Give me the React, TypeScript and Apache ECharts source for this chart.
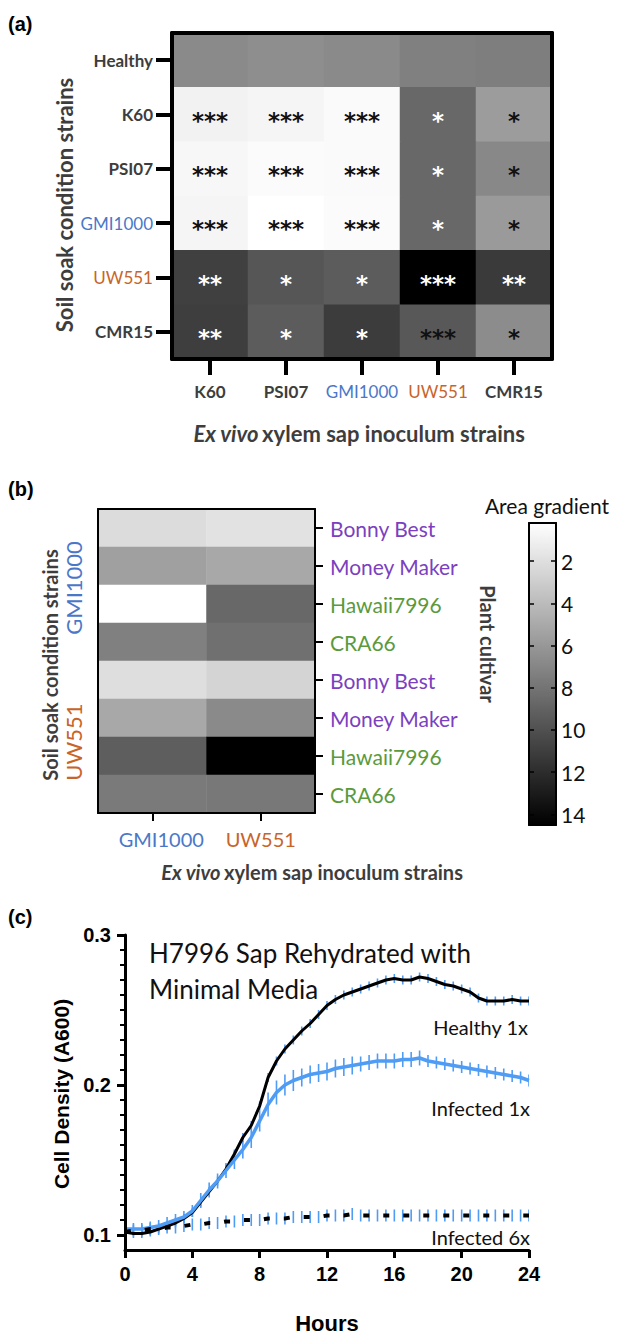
import React, { useEffect, useRef } from "react";
import * as echarts from "echarts";

// ---------- Panel (a) ----------
const soilStrainsA = ["Healthy", "K60", "PSI07", "GMI1000", "UW551", "CMR15"];
const sapStrainsA = ["K60", "PSI07", "GMI1000", "UW551", "CMR15"];
const gradientA = [
  [6.76, 6.54, 6.76, 7.32, 7.43],
  [0.93, 0.76, 0.48, 8.67, 5.75],
  [0.65, 0.42, 0.48, 8.67, 6.87],
  [0.76, 0.2, 0.42, 8.67, 5.86],
  [10.91, 9.68, 9.34, 14.5, 11.25],
  [11.02, 9.34, 11.14, 9.57, 6.65],
];
const starsA = [
  ["", "", "", "", ""],
  ["***", "***", "***", "*", "*"],
  ["***", "***", "***", "*", "*"],
  ["***", "***", "***", "*", "*"],
  ["**", "*", "*", "***", "**"],
  ["**", "*", "*", "***", "*"],
];
const starToneA = [
  ["k", "k", "k", "k", "k"],
  ["k", "k", "k", "w", "k"],
  ["k", "k", "k", "w", "k"],
  ["k", "k", "k", "w", "k"],
  ["w", "w", "w", "w", "w"],
  ["w", "w", "w", "k", "k"],
];

// ---------- Panel (b) ----------
const cultivarsB = ["Bonny Best", "Money Maker", "Hawaii7996", "CRA66", "Bonny Best", "Money Maker", "Hawaii7996", "CRA66"];
const sapStrainsB = ["GMI1000", "UW551"];
const gradientB = [
  [2.16, 1.83],
  [5.53, 5.08],
  [0.2, 8.67],
  [7.32, 8.22],
  [2.05, 2.61],
  [5.08, 6.76],
  [9.23, 14.5],
  [7.66, 7.77],
];
const colorbarTicks = [2, 4, 6, 8, 10, 12, 14];
const gradientMin = 0.2;
const gradientMax = 14.5;

// ---------- Panel (c) ----------
const hours = [0, 0.5, 1, 1.5, 2, 2.5, 3, 3.5, 4, 4.5, 5, 5.5, 6, 6.5, 7, 7.5, 8, 8.5, 9, 9.5, 10, 10.5, 11, 11.5, 12, 12.5, 13, 13.5, 14, 14.5, 15, 15.5, 16, 16.5, 17, 17.5, 18, 18.5, 19, 19.5, 20, 20.5, 21, 21.5, 22, 22.5, 23, 23.5, 24];
const healthy1x = [0.102, 0.101, 0.101, 0.102, 0.104, 0.106, 0.108, 0.111, 0.115, 0.122, 0.129, 0.136, 0.144, 0.154, 0.165, 0.173, 0.186, 0.205, 0.216, 0.224, 0.23, 0.236, 0.241, 0.247, 0.253, 0.257, 0.26, 0.262, 0.264, 0.266, 0.268, 0.27, 0.271, 0.27, 0.27, 0.272, 0.271, 0.269, 0.267, 0.266, 0.264, 0.262, 0.258, 0.256, 0.256, 0.256, 0.257, 0.256, 0.256];
const healthy1xSd = [0.004, 0.003, 0.003, 0.003, 0.003, 0.003, 0.003, 0.003, 0.003, 0.003, 0.003, 0.003, 0.003, 0.003, 0.003, 0.003, 0.003, 0.003, 0.003, 0.003, 0.003, 0.003, 0.003, 0.003, 0.003, 0.003, 0.003, 0.003, 0.003, 0.003, 0.003, 0.003, 0.003, 0.003, 0.003, 0.003, 0.003, 0.003, 0.003, 0.003, 0.003, 0.003, 0.003, 0.003, 0.003, 0.003, 0.003, 0.003, 0.003];
const infected1x = [0.104, 0.104, 0.104, 0.105, 0.106, 0.108, 0.11, 0.112, 0.116, 0.123, 0.13, 0.136, 0.143, 0.15, 0.157, 0.165, 0.176, 0.187, 0.195, 0.2, 0.203, 0.205, 0.207, 0.208, 0.209, 0.211, 0.212, 0.213, 0.214, 0.215, 0.216, 0.216, 0.216, 0.217, 0.217, 0.218, 0.216, 0.215, 0.214, 0.213, 0.212, 0.211, 0.21, 0.209, 0.208, 0.207, 0.206, 0.205, 0.203];
const infected1xSd = [0.016, 0.004, 0.004, 0.004, 0.004, 0.004, 0.004, 0.004, 0.004, 0.005, 0.005, 0.005, 0.005, 0.006, 0.006, 0.007, 0.007, 0.008, 0.008, 0.007, 0.007, 0.006, 0.006, 0.006, 0.006, 0.006, 0.006, 0.006, 0.005, 0.005, 0.005, 0.005, 0.005, 0.005, 0.005, 0.005, 0.004, 0.004, 0.004, 0.004, 0.004, 0.004, 0.004, 0.004, 0.004, 0.004, 0.004, 0.004, 0.004];
const infected6x = [0.102, 0.103, 0.103, 0.104, 0.104, 0.105, 0.105, 0.106, 0.107, 0.107, 0.108, 0.108, 0.109, 0.109, 0.11, 0.11, 0.11, 0.111, 0.111, 0.111, 0.112, 0.112, 0.112, 0.112, 0.113, 0.113, 0.113, 0.114, 0.113, 0.113, 0.113, 0.113, 0.113, 0.113, 0.113, 0.113, 0.113, 0.113, 0.113, 0.113, 0.113, 0.113, 0.113, 0.113, 0.113, 0.113, 0.113, 0.113, 0.113];
const infected6xSd = [0.004, 0.004, 0.004, 0.004, 0.004, 0.004, 0.004, 0.004, 0.004, 0.004, 0.004, 0.004, 0.004, 0.004, 0.004, 0.004, 0.004, 0.004, 0.004, 0.004, 0.004, 0.004, 0.004, 0.004, 0.004, 0.004, 0.004, 0.004, 0.004, 0.004, 0.004, 0.004, 0.004, 0.004, 0.004, 0.004, 0.004, 0.004, 0.004, 0.004, 0.004, 0.004, 0.004, 0.004, 0.004, 0.004, 0.004, 0.004, 0.004];
const yMajorTicks = [0.1, 0.2, 0.3];
const yMinorTicks = [0.11, 0.12, 0.13, 0.14, 0.15, 0.16, 0.17, 0.18, 0.19, 0.21, 0.22, 0.23, 0.24, 0.25, 0.26, 0.27, 0.28, 0.29];

const BLUE = "#4A78C8";
const ORANGE = "#C8642A";
const PURPLE = "#7B3FBF";
const GREEN = "#5B9A3C";
const DARK = "#3d3d3d";
const LINEBLUE = "#4F9CF5";
const CAL = "Lato, 'Open Sans', sans-serif";
const ARIAL = "'Liberation Sans', Arial, sans-serif";

const strainRich = {
  d: { fontFamily: CAL, fontWeight: "bold", fontSize: 17, color: DARK },
  b: { fontFamily: CAL, fontWeight: "normal", fontSize: 17, color: BLUE },
  o: { fontFamily: CAL, fontWeight: "normal", fontSize: 17, color: ORANGE },
};
const strainFmt = (v: string) => (v === "GMI1000" ? `{b|${v}}` : v === "UW551" ? `{o|${v}}` : `{d|${v}}`);

function errorBarSeries(x: number[], y: number[], e: number[], z: number) {
  return {
    type: "custom",
    xAxisIndex: 6,
    yAxisIndex: 6,
    z,
    clip: true,
    silent: true,
    data: x.map((h, i) => [h, y[i], e[i]]),
    renderItem: (params: any, api: any) => {
      const xv = api.value(0);
      const yv = api.value(1);
      const ev = api.value(2);
      const top = api.coord([xv, yv + ev]);
      const bot = api.coord([xv, yv - ev]);
      return {
        type: "line",
        shape: { x1: top[0], y1: top[1], x2: bot[0], y2: bot[1] },
        style: { stroke: LINEBLUE, lineWidth: 1.6 },
      };
    },
  };
}

export default function App() {
  const ref = useRef<HTMLDivElement>(null);
  useEffect(() => {
    document.body.style.margin = "0";
    if (!ref.current) return;
    const chart = echarts.init(ref.current, null, { renderer: "svg" });

    const dataA: any[] = [];
    gradientA.forEach((row, r) => row.forEach((v, c) => dataA.push([c, r, v])));
    const dataB: any[] = [];
    gradientB.forEach((row, r) => row.forEach((v, c) => dataB.push([c, r, v])));

    const frameLine = (w: number) => ({ show: true, lineStyle: { color: "#000", width: w } });
    const hiddenCat = (data: string[], position: string, grid: number, w: number, inverse = false) => ({
      type: "category",
      gridIndex: grid,
      data,
      position,
      inverse,
      z: 10,
      axisLine: frameLine(w),
      axisTick: { show: false },
      axisLabel: { show: false },
      splitLine: { show: false },
    });
    const starFont = { fontFamily: "'DejaVu Sans', sans-serif", fontSize: 23, fontWeight: "bold", textBorderWidth: 0 };

    const option: any = {
      animation: false,
      backgroundColor: "#fff",
      grid: [
        { left: 172, top: 33, width: 380, height: 326 },
        { left: 98, top: 509, width: 217, height: 304 },
        { left: 529, top: 523, width: 27, height: 302 },
        { left: 125, top: 935, width: 404, height: 315 },
      ],
      visualMap: [
        { type: "continuous", show: false, seriesIndex: 0, min: gradientMin, max: gradientMax, inRange: { color: ["#ffffff", "#000000"] } },
        {
          type: "continuous",
          show: true,
          seriesIndex: 1,
          min: gradientMin,
          max: gradientMax,
          inverse: true,
          calculable: false,
          left: 529,
          top: 523,
          padding: 0,
          itemWidth: 27,
          itemHeight: 302,
          text: null,
          showLabel: false,
          hoverLink: false,
          inRange: { color: ["#ffffff", "#000000"] },
        },
      ],
      xAxis: [
        {
          type: "category",
          gridIndex: 0,
          data: sapStrainsA,
          position: "bottom",
          z: 10,
          axisLine: frameLine(4),
          axisTick: { show: true, alignWithLabel: true, length: 16, lineStyle: { width: 4, color: "#000" } },
          axisLabel: { interval: 0, margin: 24, formatter: strainFmt, rich: strainRich },
          splitLine: { show: false },
        },
        hiddenCat(sapStrainsA, "top", 0, 4),
        {
          type: "category",
          gridIndex: 1,
          data: sapStrainsB,
          position: "bottom",
          z: 10,
          axisLine: frameLine(2),
          axisTick: { show: true, alignWithLabel: true, length: 8, lineStyle: { width: 2, color: "#000" } },
          axisLabel: {
            interval: 0,
            margin: 16,
            formatter: (v: string) => (v === "GMI1000" ? `{b|${v}}` : `{o|${v}}`),
            rich: {
              b: { fontFamily: CAL, fontSize: 20, color: BLUE, padding: [0, 0, 0, 18] },
              o: { fontFamily: CAL, fontSize: 20, color: ORANGE },
            },
          },
          splitLine: { show: false },
        },
        hiddenCat(sapStrainsB, "top", 1, 2),
        hiddenCat([""], "bottom", 2, 2),
        hiddenCat([""], "top", 2, 2),
        {
          type: "value",
          gridIndex: 3,
          min: 0,
          max: 24,
          interval: 4,
          z: 10,
          axisLine: { show: true, lineStyle: { color: "#000", width: 3 } },
          axisTick: { show: true, length: 8, lineStyle: { color: "#000", width: 3 } },
          axisLabel: { margin: 14, fontFamily: ARIAL, fontWeight: "bold", fontSize: 20, color: "#000" },
          splitLine: { show: false },
        },
      ],
      yAxis: [
        {
          type: "category",
          gridIndex: 0,
          data: soilStrainsA,
          inverse: true,
          position: "left",
          z: 10,
          axisLine: frameLine(4),
          axisTick: { show: true, alignWithLabel: true, length: 16, lineStyle: { width: 4, color: "#000" } },
          axisLabel: { interval: 0, margin: 19, formatter: strainFmt, rich: strainRich },
          splitLine: { show: false },
        },
        hiddenCat(soilStrainsA, "right", 0, 4, true),
        {
          type: "category",
          gridIndex: 1,
          data: cultivarsB,
          inverse: true,
          position: "right",
          z: 10,
          axisLine: frameLine(2),
          axisTick: { show: true, alignWithLabel: true, length: 8, lineStyle: { width: 2, color: "#000" } },
          axisLabel: {
            interval: 0,
            margin: 15,
            align: "left",
            formatter: (v: string) => (v === "Bonny Best" || v === "Money Maker" ? `{p|${v}}` : `{g|${v}}`),
            rich: {
              p: { fontFamily: CAL, fontSize: 21, color: PURPLE },
              g: { fontFamily: CAL, fontSize: 21, color: GREEN },
            },
          },
          splitLine: { show: false },
        },
        hiddenCat(cultivarsB, "left", 1, 2, true),
        {
          type: "value",
          gridIndex: 2,
          min: gradientMin,
          max: gradientMax,
          inverse: true,
          position: "right",
          z: 10,
          axisLine: frameLine(2),
          axisTick: { show: true, inside: true, length: 5, customValues: colorbarTicks, lineStyle: { width: 1.5, color: "#000" } },
          axisLabel: { margin: 5, customValues: colorbarTicks, fontFamily: CAL, fontSize: 21, color: "#111" },
          splitLine: { show: false },
        },
        {
          type: "value",
          gridIndex: 2,
          min: gradientMin,
          max: gradientMax,
          inverse: true,
          position: "left",
          z: 10,
          axisLine: frameLine(2),
          axisTick: { show: true, inside: true, length: 5, customValues: colorbarTicks, lineStyle: { width: 1.5, color: "#000" } },
          axisLabel: { show: false },
          splitLine: { show: false },
        },
        {
          type: "value",
          gridIndex: 3,
          min: 0.09,
          max: 0.3,
          position: "left",
          z: 10,
          axisLine: { show: true, lineStyle: { color: "#000", width: 3 } },
          axisTick: { show: true, length: 8, customValues: yMajorTicks, lineStyle: { color: "#000", width: 3 } },
          axisLabel: {
            margin: 14,
            customValues: yMajorTicks,
            formatter: (v: number) => v.toFixed(1),
            fontFamily: ARIAL,
            fontWeight: "bold",
            fontSize: 20,
            color: "#000",
          },
          splitLine: { show: false },
        },
        {
          type: "value",
          gridIndex: 3,
          min: 0.09,
          max: 0.3,
          position: "left",
          z: 10,
          axisLine: { show: false },
          axisTick: { show: true, length: 5, customValues: yMinorTicks, lineStyle: { color: "#000", width: 2 } },
          axisLabel: { show: false },
          splitLine: { show: false },
        },
      ],
      series: [
        {
          type: "heatmap",
          xAxisIndex: 0,
          yAxisIndex: 0,
          data: dataA,
          label: {
            show: true,
            offset: [0, 6],
            formatter: (p: any) => {
              const s = starsA[p.data[1]][p.data[0]];
              if (!s) return "";
              return `{${starToneA[p.data[1]][p.data[0]]}|${s}}`;
            },
            rich: {
              k: { ...starFont, color: "#111111" },
              w: { ...starFont, color: "#ffffff" },
            },
          },
          emphasis: { disabled: true },
        },
        {
          type: "heatmap",
          xAxisIndex: 2,
          yAxisIndex: 2,
          data: dataB,
          emphasis: { disabled: true },
        },
        errorBarSeries(hours, healthy1x, healthy1xSd, 3),
        {
          type: "line",
          name: "Healthy 1x",
          xAxisIndex: 6,
          yAxisIndex: 6,
          z: 4,
          data: hours.map((h, i) => [h, healthy1x[i]]),
          showSymbol: false,
          lineStyle: { color: "#000", width: 3 },
          silent: true,
        },
        errorBarSeries(hours, infected1x, infected1xSd, 3),
        {
          type: "line",
          name: "Infected 1x",
          xAxisIndex: 6,
          yAxisIndex: 6,
          z: 4,
          data: hours.map((h, i) => [h, infected1x[i]]),
          showSymbol: false,
          lineStyle: { color: LINEBLUE, width: 3.5 },
          silent: true,
        },
        errorBarSeries(hours, infected6x, infected6xSd, 3),
        {
          type: "line",
          name: "Infected 6x",
          xAxisIndex: 6,
          yAxisIndex: 6,
          z: 4,
          data: hours.map((h, i) => [h, infected6x[i]]),
          showSymbol: false,
          lineStyle: { color: "#000", width: 4, type: [6, 14], cap: "butt" },
          silent: true,
        },
      ],
      graphic: [
        { type: "text", left: 8, top: 14, style: { text: "(a)", font: `bold 20px ${ARIAL}`, fill: "#000" } },
        {
          type: "text", x: 64, y: 205, rotation: Math.PI / 2,
          style: { text: "Soil soak condition strains", font: `bold 22px ${CAL}`, fill: DARK, align: "center", verticalAlign: "middle" },
        },
        {
          type: "text", x: 359, y: 433,
          style: {
            text: "{i|Ex vivo} {n|xylem sap inoculum strains}",
            align: "center", verticalAlign: "middle",
            rich: {
              i: { fontFamily: CAL, fontStyle: "italic", fontWeight: "bold", fontSize: 22, fill: DARK },
              n: { fontFamily: CAL, fontWeight: "bold", fontSize: 22, fill: DARK },
            },
          },
        },
        { type: "text", left: 8, top: 479, style: { text: "(b)", font: `bold 20px ${ARIAL}`, fill: "#000" } },
        {
          type: "text", x: 50, y: 665, rotation: Math.PI / 2,
          style: { text: "Soil soak condition strains", font: `bold 20px ${CAL}`, fill: DARK, align: "center", verticalAlign: "middle" },
        },
        {
          type: "text", x: 73, y: 588, rotation: Math.PI / 2,
          style: { text: "GMI1000", font: `22px ${CAL}`, fill: BLUE, align: "center", verticalAlign: "middle" },
        },
        {
          type: "text", x: 73, y: 742, rotation: Math.PI / 2,
          style: { text: "UW551", font: `22px ${CAL}`, fill: ORANGE, align: "center", verticalAlign: "middle" },
        },
        {
          type: "text", x: 547, y: 505,
          style: { text: "Area gradient", font: `21px ${CAL}`, fill: "#111", align: "center", verticalAlign: "middle" },
        },
        {
          type: "text", x: 488, y: 644, rotation: -Math.PI / 2,
          style: { text: "Plant cultivar", font: `bold 20px ${CAL}`, fill: DARK, align: "center", verticalAlign: "middle" },
        },
        {
          type: "text", x: 312, y: 872,
          style: {
            text: "{i|Ex vivo} {n|xylem sap inoculum strains}",
            align: "center", verticalAlign: "middle",
            rich: {
              i: { fontFamily: CAL, fontStyle: "italic", fontWeight: "bold", fontSize: 20, fill: DARK },
              n: { fontFamily: CAL, fontWeight: "bold", fontSize: 20, fill: DARK },
            },
          },
        },
        { type: "text", left: 8, top: 907, style: { text: "(c)", font: `bold 20px ${ARIAL}`, fill: "#000" } },
        {
          type: "text", x: 149, y: 953,
          style: { text: "H7996 Sap Rehydrated with", font: `26px ${CAL}`, fill: "#111", align: "left", verticalAlign: "middle" },
        },
        {
          type: "text", x: 149, y: 989,
          style: { text: "Minimal Media", font: `26px ${CAL}`, fill: "#111", align: "left", verticalAlign: "middle" },
        },
        {
          type: "text", x: 528, y: 1027,
          style: { text: "Healthy 1x", font: `20px ${CAL}`, fill: "#111", align: "right", verticalAlign: "middle" },
        },
        {
          type: "text", x: 530, y: 1108,
          style: { text: "Infected 1x", font: `20px ${CAL}`, fill: "#111", align: "right", verticalAlign: "middle" },
        },
        {
          type: "text", x: 530, y: 1237,
          style: { text: "Infected 6x", font: `20px ${CAL}`, fill: "#111", align: "right", verticalAlign: "middle" },
        },
        {
          type: "text", x: 61, y: 1094, rotation: Math.PI / 2,
          style: { text: "Cell Density (A600)", font: `bold 21px ${ARIAL}`, fill: "#000", align: "center", verticalAlign: "middle" },
        },
        {
          type: "text", x: 327, y: 1323,
          style: { text: "Hours", font: `bold 22px ${ARIAL}`, fill: "#000", align: "center", verticalAlign: "middle" },
        },
      ],
    };
    chart.setOption(option);
    return () => chart.dispose();
  }, []);
  return <div ref={ref} style={{ width: 622, height: 1339 }} />;
}
